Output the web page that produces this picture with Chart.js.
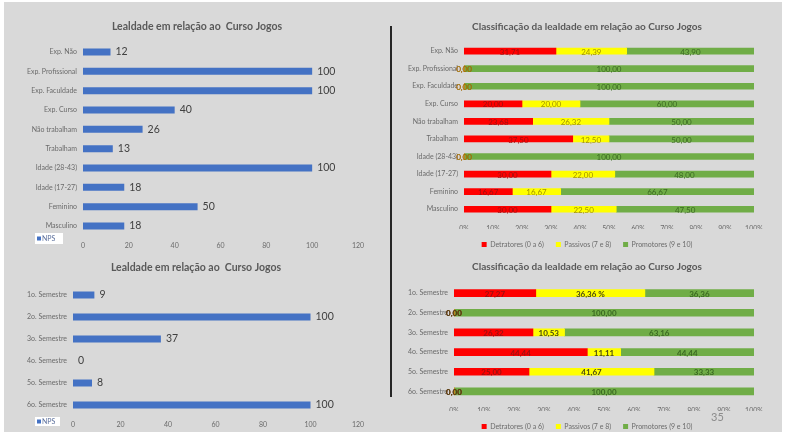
<!DOCTYPE html>
<html>
<head>
<meta charset="utf-8">
<script src="https://cdn.jsdelivr.net/npm/chart.js@4.4.0/dist/chart.umd.min.js"></script>
<style>
  html, body { margin: 0; padding: 0; background: #fff; }
  #page { position: relative; width: 800px; height: 432px; overflow: hidden; background: #fff; }
  #bg { position: absolute; left: 4px; top: 2px; width: 778px; height: 430px; background: #d9d9d9; }
  #divider { position: absolute; left: 390px; top: 26px; width: 2px; height: 371px; background: #262626; }
  #pagenum { position: absolute; left: 711px; top: 410px; font: 11px Lato, sans-serif; color: #8c8c8c; }
  canvas { position: absolute; }
</style>
</head>
<body>
<div id="page">
  <div id="bg"></div>
  <div id="divider"></div>
  <canvas id="npsProfile" width="390" height="258" style="left:0;top:0"></canvas>
  <canvas id="npsSemester" width="390" height="177" style="left:0;top:255px"></canvas>
  <canvas id="classProfile" width="405" height="258" style="left:395px;top:0"></canvas>
  <canvas id="classSemester" width="405" height="185" style="left:395px;top:255px"></canvas>
  <div id="pagenum">35</div>
</div>
<script>
const profileLabels = ['Exp. Não', 'Exp. Profissional', 'Exp. Faculdade', 'Exp. Curso', 'Não trabalham',
  'Trabalham', 'Idade (28-43)', 'Idade (17-27)', 'Feminino', 'Masculino'];
const profileNps = [12, 100, 100, 40, 26, 13, 100, 18, 50, 18];

const semesterLabels = ['1o. Semestre', '2o. Semestre', '3o. Semestre', '4o. Semestre', '5o. Semestre', '6o. Semestre'];
const semesterNps = [9, 100, 37, 0, 8, 100];

const profileDetratores = [31.71, 0, 0, 20.00, 23.68, 37.50, 0, 30.00, 16.67, 30.00];
const profilePassivos = [24.39, 0, 0, 20.00, 26.32, 12.50, 0, 22.00, 16.67, 22.50];
const profilePromotores = [43.90, 100, 100, 60.00, 50.00, 50.00, 100, 48.00, 66.67, 47.50];

const semesterDetratores = [27.27, 0, 26.32, 44.44, 25.00, 0];
const semesterPassivos = [36.36, 0, 10.53, 11.11, 41.67, 0];
const semesterPromotores = [36.36, 100, 63.16, 44.44, 33.33, 100];

const classNames = ['Detratores (0 a 6)', 'Passivos (7 e 8)', 'Promotores (9 e 10)'];

const FONT = 'Lato';
const TEXT_GRAY = '#595959';
const AXIS_GRAY = '#6b6b6b';
const BLUE = '#4472c4';
const RED = '#ff0000';
const YELLOW = '#ffff00';
const GREEN = '#70ad47';

// draws the value next to / inside each bar
const valueLabels = {
  id: 'valueLabels',
  afterDatasetsDraw(chart, args, opts) {
    const ctx = chart.ctx;
    ctx.save();
    ctx.textBaseline = 'middle';
    chart.data.datasets.forEach((ds, i) => {
      const meta = chart.getDatasetMeta(i);
      ctx.font = (opts.bold ? 'bold ' : '') + opts.size + 'px ' + FONT;
      ctx.fillStyle = ds.labelColor || '#404040';
      meta.data.forEach((bar, j) => {
        const v = ds.data[j];
        if (opts.mode === 'end') {
          ctx.textAlign = 'left';
          ctx.fillText(String(v), bar.x + 5, bar.y);
        } else {
          let txt = v.toFixed(2).replace('.', ',');
          if (ds.suffix && ds.suffix[j]) txt += ds.suffix[j];
          ctx.textAlign = 'center';
          ctx.fillText(txt, (bar.x + bar.base) / 2, bar.y + 1);
        }
      });
    });
    ctx.restore();
  }
};

// small white NPS legend box, like the Excel one
const npsLegend = {
  id: 'npsLegend',
  afterDraw(chart, args, opts) {
    const ctx = chart.ctx;
    ctx.save();
    ctx.fillStyle = '#ffffff';
    ctx.fillRect(opts.x, opts.y, opts.w, opts.h);
    ctx.fillStyle = BLUE;
    ctx.fillRect(opts.x + 2, opts.y + opts.h / 2 - 2, 4, 4);
    ctx.font = '7px ' + FONT;
    ctx.fillStyle = '#5b6f9c';
    ctx.textBaseline = 'middle';
    ctx.fillText(chart.data.datasets[0].label, opts.x + 7, opts.y + opts.h / 2 + 0.5);
    ctx.restore();
  }
};

// the y tick labels stick out left of the axis box, so widen the clip area
const unclipTicks = {
  id: 'unclipTicks',
  afterLayout(chart) {
    chart.scales.y.left = 0;
  }
};

function titleOpts(text, size, bottom) {
  return {
    display: true,
    text: text,
    color: TEXT_GRAY,
    font: { family: FONT, size: size, weight: 'bold' },
    padding: { top: 0, bottom: bottom }
  };
}

function npsChart(id, labels, values, cfg) {
  return new Chart(document.getElementById(id), {
    type: 'bar',
    data: {
      labels: labels,
      datasets: [{ label: 'NPS', data: values, backgroundColor: BLUE, barThickness: 7, inflateAmount: 0 }]
    },
    options: {
      responsive: false,
      animation: false,
      indexAxis: 'y',
      layout: { padding: { top: cfg.top, left: cfg.left, right: cfg.right, bottom: 0 } },
      scales: {
        x: {
          min: 0, max: 120,
          grid: { display: false, drawTicks: false },
          border: { display: false },
          ticks: { stepSize: 20, padding: cfg.tickPad, color: AXIS_GRAY, font: { family: FONT, size: 7 } },
          afterFit(scale) { scale.height = cfg.axisH; }
        },
        y: {
          grid: { display: false, drawTicks: false },
          border: { display: false },
          ticks: { padding: 6, color: AXIS_GRAY, font: { family: FONT, size: 7 } },
          afterFit(scale) { scale.width = cfg.yW; }
        }
      },
      plugins: {
        legend: { display: false },
        title: titleOpts('Lealdade em relação ao  Curso Jogos', 10.5, cfg.titleBottom),
        tooltip: { enabled: false },
        valueLabels: { mode: 'end', size: 10.5 },
        npsLegend: cfg.legendBox
      }
    },
    plugins: [valueLabels, npsLegend, unclipTicks]
  });
}

function classChart(id, labels, red, yellow, green, cfg) {
  return new Chart(document.getElementById(id), {
    type: 'bar',
    data: {
      labels: labels,
      datasets: [
        { label: classNames[0], data: red, backgroundColor: RED, barThickness: cfg.bar, labelColor: '#9a1010' },
        { label: classNames[1], data: yellow, backgroundColor: YELLOW, barThickness: cfg.bar,
          labelColor: cfg.bold ? '#4a4a10' : '#a39400', suffix: cfg.yellowSuffix },
        { label: classNames[2], data: green, backgroundColor: GREEN, barThickness: cfg.bar, labelColor: '#3b6a22' }
      ]
    },
    options: {
      responsive: false,
      animation: false,
      indexAxis: 'y',
      layout: { padding: { top: cfg.top, left: 25, right: 46, bottom: 0 } },
      scales: {
        x: {
          stacked: true,
          min: 0, max: 100,
          grid: { display: false, drawTicks: false },
          border: { display: false },
          ticks: {
            stepSize: 10, padding: cfg.tickPad, color: AXIS_GRAY,
            font: { family: FONT, size: 7 },
            callback: v => v + '%'
          },
          afterFit(scale) { scale.height = cfg.axisH; }
        },
        y: {
          stacked: true,
          grid: { display: false, drawTicks: false },
          border: { display: false },
          ticks: { padding: 6, color: AXIS_GRAY, font: { family: FONT, size: 7 } },
          afterFit(scale) { scale.width = cfg.yW; }
        }
      },
      plugins: {
        legend: {
          position: 'bottom',
          labels: {
            boxWidth: 5, boxHeight: 5, padding: 12,
            color: AXIS_GRAY, font: { family: FONT, size: 7 }
          }
        },
        title: titleOpts('Classificação da lealdade em relação ao Curso Jogos', 10, cfg.titleBottom),
        tooltip: { enabled: false },
        valueLabels: { mode: 'center', size: 8, bold: cfg.bold }
      }
    },
    plugins: [valueLabels, unclipTicks]
  });
}

npsChart('npsProfile', profileLabels, profileNps, {
  top: 20.7, titleBottom: 9, left: 36, right: 32, yW: 47, axisH: 22.3, tickPad: 6.3,
  legendBox: { x: 35, y: 233, w: 28, h: 11 }
});

npsChart('npsSemester', semesterLabels, semesterNps, {
  top: 6.7, titleBottom: 9.7, left: 34, right: 32, yW: 39, axisH: 16, tickPad: 5,
  legendBox: { x: 35, y: 162, w: 25, h: 9 }
});

classChart('classProfile', profileLabels, profileDetratores, profilePassivos, profilePromotores, {
  top: 21, titleBottom: 9.3, yW: 44, axisH: 11, tickPad: 6.3, bar: 6, bold: false
});

classChart('classSemester', semesterLabels, semesterDetratores, semesterPassivos, semesterPromotores, {
  top: 6, titleBottom: 10.3, yW: 34, axisH: 9.8, tickPad: 5.3, bar: 7, bold: true,
  yellowSuffix: [' %']
});
</script>
</body>
</html>
